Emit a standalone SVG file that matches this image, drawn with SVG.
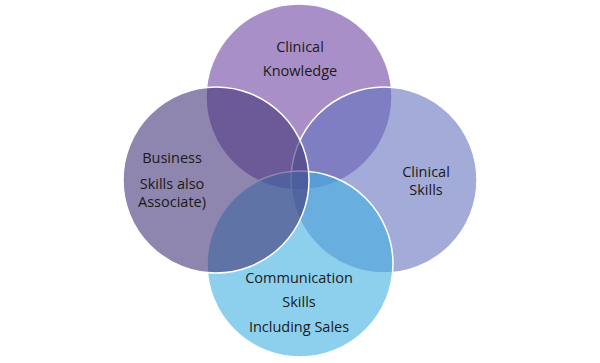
<svg xmlns="http://www.w3.org/2000/svg" width="600" height="363" viewBox="0 0 600 363">
<style>
.c{stroke:#ffffff;stroke-width:1.5;fill-opacity:0.6;stroke-opacity:1}
.t{font-family:"Open Sans","Liberation Sans",sans-serif;font-size:14.5px;font-weight:500;fill:#1a1a1a;text-anchor:middle}
</style>
<rect width="600" height="363" fill="#ffffff"/>
<g id="clinical-knowledge">
<circle cx="299" cy="97" r="93" fill="#A98FC8" stroke="#ffffff" stroke-width="1.5"/>
</g>
<g id="clinical-skills">
<circle class="c" cx="384" cy="180" r="93" fill="#6673BE"/>
</g>
<g id="communication">
<circle class="c" cx="300" cy="264" r="93" fill="#41B1E3"/>
</g>
<g id="business">
<circle class="c" cx="216" cy="180" r="93" fill="#433578"/>
</g>
<g id="labels">
<text class="t" x="300" y="52">Clinical</text>
<text class="t" x="300" y="76">Knowledge</text>
<text class="t" x="172" y="163">Business</text>
<text class="t" x="172" y="189">Skills also</text>
<text class="t" x="172" y="207">Associate)</text>
<text class="t" x="426" y="177">Clinical</text>
<text class="t" x="426" y="195">Skills</text>
<text class="t" x="299" y="283">Communication</text>
<text class="t" x="299" y="307">Skills</text>
<text class="t" x="299" y="332">Including Sales</text>
</g>
<g id="connectors"></g>
</svg>
